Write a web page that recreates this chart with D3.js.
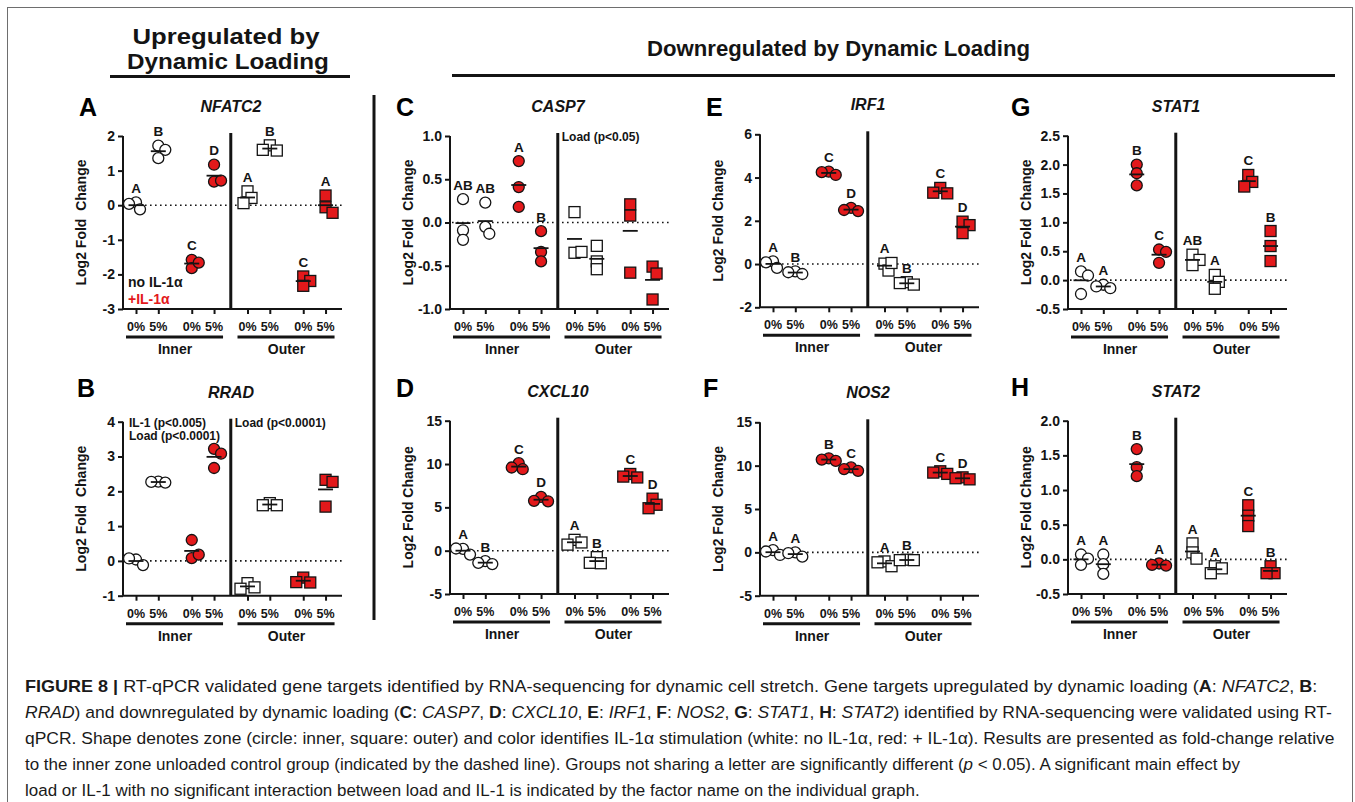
<!DOCTYPE html>
<html><head><meta charset="utf-8">
<script src="https://cdn.jsdelivr.net/npm/d3@7"></script>
<style>
body{margin:0;background:#fff}
svg{display:block}
text{font-family:"Liberation Sans",Arial,Helvetica,sans-serif;}
</style>
</head><body>
<svg id="c" width="1355" height="802"></svg>
<script>
// ---------------- DATA ----------------
const groups = ["Inner 0%","Inner 5%","Inner +IL-1α 0%","Inner +IL-1α 5%","Outer 0%","Outer 5%","Outer +IL-1α 0%","Outer +IL-1α 5%"];
const loadLabels = ["0%","5%","0%","5%","0%","5%","0%","5%"];
const zoneLabels = ["Inner","Outer"];

const NFATC2 = [[0.08,-0.12,0.04],[1.72,1.6,1.36],[-1.58,-1.82,-1.66],[1.17,0.68,0.71],[0.40,0.21,0.06],[1.73,1.58,1.6],[-2.06,-2.19,-2.33],[0.28,-0.06,-0.22]];
const RRAD   = [[0.04,-0.12,0.07],[2.28,2.25,2.27],[0.6,0.08,0.18],[3.22,3.08,2.67],[-0.64,-0.76,-0.8],[1.66,1.6,1.6],[-0.48,-0.62,-0.61],[2.33,2.27,1.56]];
const CASP7  = [[0.27,-0.09,-0.2],[0.23,-0.05,-0.13],[0.71,0.41,0.18],[-0.1,-0.34,-0.45],[0.12,-0.35,-0.34],[-0.27,-0.45,-0.54],[0.21,0.08,-0.58],[-0.51,-0.59,-0.89]];
const CXCL10 = [[0.2,-0.45,0.25],[-1.2,-1.55,-1.4],[10.1,9.4,9.6],[6.2,5.7,5.75],[1.25,0.95,0.7],[-0.75,-1.45,-1.4],[8.85,8.45,8.55],[6.0,5.3,4.9]];
const IRF1   = [[0.12,-0.18,0.08],[-0.34,-0.46,-0.38],[4.27,4.12,4.25],[2.6,2.45,2.5],[0.02,-0.3,0.05],[-0.84,-0.95,-0.88],[3.52,3.27,3.3],[1.96,1.8,1.43]];
const NOS2   = [[0.25,-0.3,0.1],[0.0,-0.5,-0.1],[10.85,10.55,10.7],[9.8,9.4,9.6],[-1.05,-1.6,-1.15],[-0.85,-0.9,-0.9],[9.35,9.05,9.2],[8.65,8.42,8.55]];
const STAT1  = [[0.15,0.08,-0.24],[-0.08,-0.14,-0.11],[2.0,1.85,1.64],[0.53,0.49,0.3],[0.44,0.35,0.26],[0.09,-0.03,-0.15],[1.82,1.7,1.62],[0.85,0.59,0.33]];
const STAT2  = [[0.07,0.01,-0.08],[0.07,-0.07,-0.21],[1.59,1.33,1.2],[-0.06,-0.09,-0.08],[0.23,0.1,0.01],[-0.1,-0.13,-0.2],[0.78,0.63,0.48],[-0.1,-0.2,-0.2]];

const NFATC2_letters = ["A","B","C","D","A","B","C","A"];
const RRAD_letters   = ["","","","","","","",""];
const CASP7_letters  = ["AB","AB","A","B","","","",""];
const CXCL10_letters = ["A","B","C","D","A","B","C","D"];
const IRF1_letters   = ["A","B","C","D","A","B","C","D"];
const NOS2_letters   = ["A","A","B","C","A","B","C","D"];
const STAT1_letters  = ["A","A","B","C","AB","A","C","B"];
const STAT2_letters  = ["A","A","B","A","A","A","C","B"];

const NFATC2_ticks = [-3,-2,-1,0,1,2];
const RRAD_ticks   = [-1,0,1,2,3,4];
const CASP7_ticks  = [-1,-0.5,0,0.5,1];
const CXCL10_ticks = [-5,0,5,10,15];
const IRF1_ticks   = [-2,0,2,4,6];
const NOS2_ticks   = [-5,0,5,10,15];
const STAT1_ticks  = [-0.5,0,0.5,1,1.5,2,2.5];
const STAT2_ticks  = [-0.5,0,0.5,1,1.5,2];

// ---------------- STYLE / LAYOUT ----------------
const RED = "#e3191b", INK = "#141414";
const svg = d3.select("#c");

svg.append("rect").attr("x",7.5).attr("y",7.5).attr("width",1345).attr("height",805)
  .attr("fill","none").attr("stroke","#6e6e6e").attr("stroke-width",1);

function scaleTo(sel, s){
  const tx = +sel.attr("data-x"), ty = +sel.attr("data-y");
  sel.attr("transform",`translate(${tx},${ty}) scale(${s},1)`);
}
function fit(sel, w){
  const bw = sel.node().getBBox().width;
  scaleTo(sel, w/bw);
}
function txt(x,y,str,opt={}){
  const t = svg.append("text").attr("x",0).attr("y",0).attr("data-x",x).attr("data-y",y)
    .attr("transform",`translate(${x},${y})`)
    .attr("font-size",opt.size||14).attr("font-weight",opt.weight||"bold")
    .attr("font-style",opt.style||"normal").attr("fill",opt.fill||INK)
    .attr("text-anchor",opt.anchor||"start").text(str);
  if(opt.w) fit(t,opt.w);
  return t;
}

// Headers
txt(226,43.5,"Upregulated by",{size:22,anchor:"middle",w:188});
txt(228,68.5,"Dynamic Loading",{size:22,anchor:"middle",w:202});
svg.append("line").attr("x1",110).attr("x2",350).attr("y1",76.5).attr("y2",76.5).attr("stroke",INK).attr("stroke-width",3);
txt(838.5,56,"Downregulated by Dynamic Loading",{size:22,anchor:"middle",w:383});
svg.append("line").attr("x1",452).attr("x2",1335).attr("y1",75.5).attr("y2",75.5).attr("stroke",INK).attr("stroke-width",3);
svg.append("line").attr("x1",374).attr("x2",374).attr("y1",95).attr("y2",620).attr("stroke",INK).attr("stroke-width",3);

const slots = [0,1,2.5,3.5,5,6,7.5,8.5];
const PW = 219, SLOT = 22.3, OFF = 13;

const panels = [
 {L:"A",gene:"NFATC2",vals:NFATC2,letters:NFATC2_letters,ticks:NFATC2_ticks,x0:123,yTop:136,yBot:309,lx:79,ly:116,ylab:"Log2 Fold  Change",legend:true},
 {L:"B",gene:"RRAD",vals:RRAD,letters:RRAD_letters,ticks:RRAD_ticks,x0:123,yTop:421.7,yBot:595.7,lx:77,ly:397,ylab:"Log2 Fold  Change",notesL:["IL-1 (p<0.005)","Load (p<0.0001)"],notesR:["Load (p<0.0001)"]},
 {L:"C",gene:"CASP7",vals:CASP7,letters:CASP7_letters,ticks:CASP7_ticks,x0:450,yTop:136,yBot:309,lx:396,ly:116,ylab:"Log2 Fold  Change",notesR:["Load (p<0.05)"]},
 {L:"D",gene:"CXCL10",vals:CXCL10,letters:CXCL10_letters,ticks:CXCL10_ticks,x0:450,yTop:420.7,yBot:594,lx:396,ly:397,ylab:"Log2 Fold Change"},
 {L:"E",gene:"IRF1",vals:IRF1,letters:IRF1_letters,ticks:IRF1_ticks,x0:760,yTop:134.3,yBot:307.3,lx:706,ly:116,ylab:"Log2 Fold Change"},
 {L:"F",gene:"NOS2",vals:NOS2,letters:NOS2_letters,ticks:NOS2_ticks,x0:760,yTop:422.3,yBot:595.7,lx:703,ly:397,ylab:"Log2 Fold  Change"},
 {L:"G",gene:"STAT1",vals:STAT1,letters:STAT1_letters,ticks:STAT1_ticks,x0:1068,yTop:135.7,yBot:309,lx:1011,ly:116,ylab:"Log2 Fold  Change"},
 {L:"H",gene:"STAT2",vals:STAT2,letters:STAT2_letters,ticks:STAT2_ticks,x0:1068,yTop:420.7,yBot:594,lx:1011,ly:396,ylab:"Log2 Fold Change"}
];

function swarm(ys){
  const placed=[], cands=[0,4,-4,7,-7,10,-10], minD=7;
  return ys.map(y=>{
    let best=0,bestD=-1;
    for(const c of cands){
      let d=Infinity;
      for(const p of placed) d=Math.min(d,Math.hypot(c-p.dx,y-p.y));
      if(d>=minD){best=c;bestD=d;break;}
      if(d>bestD){bestD=d;best=c;}
    }
    placed.push({dx:best,y}); return best;
  });
}

panels.forEach(P=>{
  const g = svg.append("g");
  const x = d3.scaleLinear().domain([-OFF/SLOT,(PW-OFF)/SLOT]).range([P.x0,P.x0+PW]);
  const y = d3.scaleLinear().domain(d3.extent(P.ticks)).range([P.yBot,P.yTop]);
  const dec = P.ticks.some(t=>!Number.isInteger(t));
  const fmt = v => (dec? d3.format(".1f")(v) : d3.format("d")(v)).replace("\u2212","-");

  // y axis
  const ya = g.append("g").attr("transform",`translate(${P.x0},0)`)
    .call(d3.axisLeft(y).tickValues(P.ticks).tickFormat(fmt).tickSize(5).tickPadding(3));
  ya.select(".domain").attr("stroke",INK).attr("stroke-width",2).attr("d",`M0,${P.yTop}V${P.yBot}`);
  ya.selectAll(".tick line").attr("stroke",INK).attr("stroke-width",2);
  ya.selectAll(".tick text").attr("fill",INK).attr("font-size",14).attr("font-weight","bold")
    .attr("font-family",'"Liberation Sans",Arial,sans-serif');

  // x axis
  const xa = g.append("g").attr("transform",`translate(0,${P.yBot})`)
    .call(d3.axisBottom(x).tickValues(slots).tickFormat(()=>"").tickSize(5));
  xa.select(".domain").attr("stroke",INK).attr("stroke-width",2).attr("d",`M${P.x0},0H${P.x0+PW}`);
  xa.selectAll(".tick line").attr("stroke",INK).attr("stroke-width",2);

  // x labels
  slots.forEach((s,i)=>{
    g.append("text").attr("x",x(s)).attr("y",P.yBot+22).attr("text-anchor","middle")
      .attr("font-size",12.5).attr("font-weight","bold").attr("fill",INK).text(loadLabels[i]);
  });
  [[0,3.5],[5,8.5]].forEach((r,k)=>{
    g.append("line").attr("x1",x(r[0])-10).attr("x2",x(r[1])+9).attr("y1",P.yBot+28).attr("y2",P.yBot+28)
      .attr("stroke",INK).attr("stroke-width",3);
    g.append("text").attr("x",(x(r[0])+x(r[1]))/2).attr("y",P.yBot+45).attr("text-anchor","middle")
      .attr("font-size",14).attr("font-weight","bold").attr("fill",INK).text(zoneLabels[k]);
  });

  // divider
  g.append("line").attr("x1",x(4.25)).attr("x2",x(4.25)).attr("y1",P.yTop-3).attr("y2",P.yBot)
    .attr("stroke",INK).attr("stroke-width",3);
  // zero dotted line
  g.append("line").attr("x1",P.x0+2).attr("x2",P.x0+PW).attr("y1",y(0)).attr("y2",y(0))
    .attr("stroke",INK).attr("stroke-width",1.6).attr("stroke-dasharray","1.6,3.4");

  // y label
  g.append("text").attr("transform",`translate(${P.x0-37},${(P.yTop+P.yBot)/2}) rotate(-90)`)
    .attr("text-anchor","middle").attr("font-size",14).attr("font-weight","bold").attr("fill",INK)
    .style("white-space","pre").text(P.ylab);
  // panel letter & title
  g.append("text").attr("x",P.lx).attr("y",P.ly).attr("font-size",25).attr("font-weight","bold").attr("fill","#000").text(P.L);
  g.append("text").attr("x",P.x0+108).attr("y",P.yTop-24).attr("text-anchor","middle")
    .attr("font-size",16).attr("font-weight","bold").attr("font-style","italic").attr("fill",INK).text(P.gene);

  // points
  P.vals.forEach((vals,i)=>{
    const cx = x(slots[i]);
    const ys = vals.map(v=>y(v));
    const dxs = swarm(ys);
    const fill = (i%4>=2)? RED : "#fff";
    const inner = i<4;
    vals.forEach((v,j)=>{
      if(inner){
        g.append("circle").attr("cx",cx+dxs[j]).attr("cy",ys[j]).attr("r",5.5)
          .attr("fill",fill).attr("stroke",INK).attr("stroke-width",1.3);
      } else {
        g.append("rect").attr("x",cx+dxs[j]-5.5).attr("y",ys[j]-5.5).attr("width",11).attr("height",11)
          .attr("fill",fill).attr("stroke",INK).attr("stroke-width",1.3);
      }
    });
    const m = d3.mean(vals);
    g.append("line").attr("x1",cx-7.5).attr("x2",cx+7.5).attr("y1",y(m)).attr("y2",y(m))
      .attr("stroke",INK).attr("stroke-width",1.8);
    if(P.letters[i]){
      g.append("text").attr("x",cx).attr("y",y(d3.max(vals))-9.5).attr("text-anchor","middle")
        .attr("font-size",13.5).attr("font-weight","bold").attr("fill",INK).text(P.letters[i]);
    }
  });

  if(P.notesL) P.notesL.forEach((n,k)=>g.append("text").attr("x",P.x0+6).attr("y",P.yTop+5+k*13)
      .attr("font-size",12).attr("font-weight","bold").attr("fill",INK).text(n));
  if(P.notesR) P.notesR.forEach((n,k)=>g.append("text").attr("x",x(4.25)+4).attr("y",P.yTop+5+k*13)
      .attr("font-size",12).attr("font-weight","bold").attr("fill",INK).text(n));
  if(P.legend){
    g.append("text").attr("x",P.x0+5).attr("y",P.yBot-22).attr("font-size",14).attr("font-weight","bold").attr("fill",INK).text("no IL-1α");
    g.append("text").attr("x",P.x0+5).attr("y",P.yBot-5).attr("font-size",14).attr("font-weight","bold").attr("fill",RED).text("+IL-1α");
  }
});

// ---------------- CAPTION ----------------
const captionLines = [
 [["b","FIGURE 8 | "],["n","RT-qPCR validated gene targets identified by RNA-sequencing for dynamic cell stretch. Gene targets upregulated by dynamic loading ("],["b","A"],["n",": "],["i","NFATC2"],["n",", "],["b","B"],["n",":"]],
 [["i","RRAD"],["n",") and downregulated by dynamic loading ("],["b","C"],["n",": "],["i","CASP7"],["n",", "],["b","D"],["n",": "],["i","CXCL10"],["n",", "],["b","E"],["n",": "],["i","IRF1"],["n",", "],["b","F"],["n",": "],["i","NOS2"],["n",", "],["b","G"],["n",": "],["i","STAT1"],["n",", "],["b","H"],["n",": "],["i","STAT2"],["n",") identified by RNA-sequencing were validated using RT-"]],
 [["n","qPCR. Shape denotes zone (circle: inner, square: outer) and color identifies IL-1α stimulation (white: no IL-1α, red: + IL-1α). Results are presented as fold-change relative"]],
 [["n","to the inner zone unloaded control group (indicated by the dashed line). Groups not sharing a letter are significantly different ("],["i","p"],["n"," < 0.05). A significant main effect by"]],
 [["n","load or IL-1 with no significant interaction between load and IL-1 is indicated by the factor name on the individual graph."]]
];
const capW = [1302,1307,1311,1208,816];
const capNodes = captionLines.map((line,k)=>{
  const yb = 692 + k*26;
  const t = svg.append("text").attr("x",0).attr("y",0).attr("data-x",25).attr("data-y",yb)
    .attr("transform",`translate(25,${yb})`)
    .attr("font-size",17).attr("fill","#1a1a1a").style("white-space","pre");
  line.forEach(([s,str])=>{
    t.append("tspan").attr("font-weight",s==="b"?"bold":"normal").attr("font-style",s==="i"?"italic":"normal").text(str);
  });
  return t;
});
const raw = capNodes.map((t,k)=>capW[k]/t.node().getBBox().width);
const med = d3.median(raw.slice(0,3));
capNodes.forEach((t,k)=>{
  const s = Math.max(med*0.97, Math.min(med*1.03, raw[k]));
  scaleTo(t, s);
});
</script>
</body></html>
